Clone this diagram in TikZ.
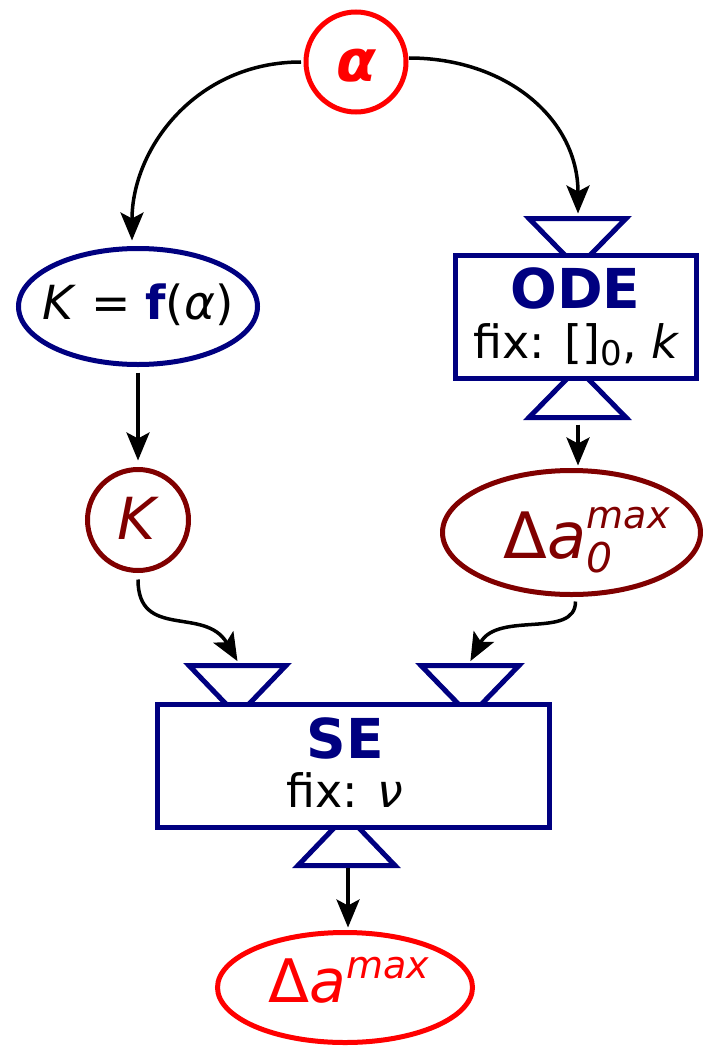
\documentclass[tikz,border=0pt]{standalone}
\usepackage{fontspec}
\setmainfont{DejaVu Sans}
\usetikzlibrary{arrows.meta,shapes.geometric,calc}
\definecolor{navy}{RGB}{0,0,128}
\definecolor{dred}{RGB}{128,0,0}
\definecolor{bred}{RGB}{255,0,0}
\newcommand{\fs}[1]{\fontsize{#1}{#1}\selectfont}
\begin{document}
\begin{tikzpicture}[x=1pt,y=-1pt,
  shp/.style={line width=5pt, inner sep=0pt, outer sep=0pt},
  circ/.style={shp, circle, minimum size=#1},
  ell/.style={shp, ellipse},
  arr/.style={line width=3.5pt, -{Stealth[length=28pt,width=23pt,inset=6pt]}},
  tri/.style={line width=5pt, draw=navy, line join=miter},
  boxnode/.style={shp, rectangle, draw=navy, fill=white},
  lbl/.style={anchor=base, inner sep=0pt}
]
\useasboundingbox (0,0) rectangle (703,1046);

% shape nodes
\node[circ=100, draw=bred, text=bred, text height=40pt, text depth=0pt] (alpha) at (356,62) {\makebox[0pt]{\fs{58}\bfseries\itshape α}};
\node[ell, draw=navy, minimum width=239, minimum height=116, text height=25pt, text depth=0pt] (kf) at (138,306.5)
  {\makebox[0pt]{\fs{47}\textit{K} = {\color{navy}\bfseries f}(\textit{α})}};
\node[circ=101, draw=dred, text=dred, text height=38pt, text depth=0pt] (k) at (138,520) {\makebox[0pt]{\fs{58}\textit{K}}};
\node[ell, draw=dred, text=dred, minimum width=258, minimum height=124, text height=51pt, text depth=0pt] (da0) at (571.5,532.5)
  {\makebox[0pt]{\fs{64}\hspace*{31pt}Δ\textit{a}\rlap{\raisebox{-14pt}{\fs{41}\textit{0}}}\raisebox{30pt}{\fs{38}\textit{max}}}};
\node[ell, draw=bred, text=bred, minimum width=255, minimum height=110, text height=29pt, text depth=0pt] (da) at (345,987.5)
  {\makebox[0pt]{\fs{60}\hspace*{8pt}Δ\textit{a}\raisebox{24pt}{\fs{38}\textit{max}}}};

% triangles (ports)
\coordinate (oin) at (577.5,218.5);
\coordinate (oout) at (577.5,417.5);
\coordinate (sin1) at (237.5,665.5);
\coordinate (sin2) at (470,665.5);
\coordinate (sout) at (346.5,865.5);
\draw[tri] (529,218.5) -- (626,218.5) -- (577.5,268) -- cycle;
\draw[tri] (529,417.5) -- (626,417.5) -- (577.5,368) -- cycle;
\draw[tri] (189,665.5) -- (286,665.5) -- (237.5,716) -- cycle;
\draw[tri] (421,665.5) -- (519,665.5) -- (470,716) -- cycle;
\draw[tri] (298,865.5) -- (395,865.5) -- (346.5,815) -- cycle;

% boxes
\node[boxnode, minimum width=241, minimum height=123] (ode) at (576,317) {};
\node[boxnode, minimum width=392, minimum height=123] (se) at (353.5,766) {};
\node[lbl, text=navy] (odet) at (575.5,308) {\fs{55}\bfseries ODE};
\node[lbl] (odef) at (576.5,358) {\fs{46}fix: []\raisebox{-7pt}{\fs{34}0}, \textit{k}};
\node[lbl, text=navy] (set) at (345,758) {\fs{55}\bfseries SE};
\node[lbl] (sef) at (345,807) {\fs{46}fix: \textit{ν}};

% connectors
\draw[arr, shorten <=5pt, shorten >=8pt] (alpha.west) .. controls +(-110,0) and +(0,-100) .. ($(kf.north)+(-6,0)$);
\draw[arr, shorten <=3pt, shorten >=5pt] ($(alpha.east)+(0,-4)$) .. controls +(100,0) and +(0,-100) .. ($(oin)+(0.5,0)$);
\draw[arr, shorten <=8pt, shorten >=9pt] (kf.south) -- (k.north);
\draw[arr, shorten <=7pt, shorten >=5pt] ($(oout)+(0.5,0)$) -- ($(da0.north)+(6.5,0)$);
\draw[arr, shorten <=9pt, shorten >=5pt] (k.south) .. controls +(0,70) and +(-35,-60) .. ($(sin1)+(2.5,0)$);
\draw[arr, shorten <=7pt, shorten >=5pt] ($(da0.south)+(4,0)$) .. controls +(0,45) and +(30,-55) .. ($(sin2)+(-2,0)$);
\draw[arr, shorten <=2pt, shorten >=5pt] ($(sout)+(1.5,0)$) -- ($(da.north)+(3,0)$);
\end{tikzpicture}
\end{document}
